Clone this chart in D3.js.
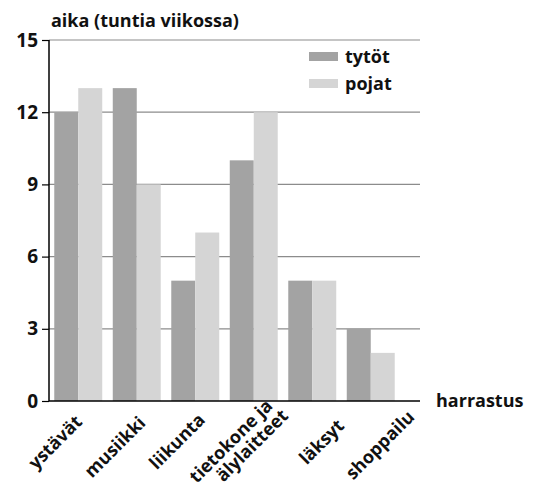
<!DOCTYPE html>
<html>
<head>
<meta charset="utf-8">
<script src="https://cdn.jsdelivr.net/npm/d3@7"></script>
<style>
  body { margin: 0; background: #fff; }
  text { font-family: "Open Sans", "DejaVu Sans", sans-serif; font-weight: 700; fill: #111; }
</style>
</head>
<body>
<div id="chart"></div>
<script>
// data
var categories = ["ystävät", "musiikki", "liikunta", "tietokone ja\nälylaitteet", "läksyt", "shoppailu"];
var tytot = [12, 13, 5, 10, 5, 3];
var pojat = [13, 9, 7, 12, 5, 2];
var seriesNames = ["tytöt", "pojat"];
var yTicks = [0, 3, 6, 9, 12, 15];

var colors = ["#a3a3a3", "#d5d5d5"];

var svgWidth = 539;
var svgHeight = 490;

var svg = d3.select("#chart")
  .append("svg")
  .attr("width", svgWidth)
  .attr("height", svgHeight);

// plot edges (don't call it "top", that's window.top)
var plotLeft = 49, plotRight = 400, plotTop = 40, plotBottom = 401;

var x = d3.scaleBand()
  .domain(categories)
  .range([plotLeft, plotRight])
  .paddingInner(0.18)
  .paddingOuter(0.09);

var xInner = d3.scaleBand()
  .domain(seriesNames)
  .range([0, x.bandwidth()]);

var y = d3.scaleLinear()
  .domain([0, 15])
  .range([plotBottom, plotTop]);

// gridlines
svg.append("g")
  .selectAll("line")
  .data(yTicks.filter(d => d > 0))
  .enter()
  .append("line")
  .attr("x1", plotLeft)
  .attr("x2", 420)
  .attr("y1", d => y(d))
  .attr("y2", d => y(d))
  .attr("stroke", "#8c8c8c")
  .attr("stroke-width", 1.2);

// bars
var rows = categories.map((c, i) => ({ cat: c, vals: [tytot[i], pojat[i]] }));

var groups = svg.append("g")
  .selectAll("g")
  .data(rows)
  .enter()
  .append("g")
  .attr("transform", d => `translate(${x(d.cat)},0)`);

groups.selectAll("rect")
  .data(d => d.vals.map((v, j) => ({ name: seriesNames[j], v: v, j: j })))
  .enter()
  .append("rect")
  .attr("x", d => xInner(d.name))
  .attr("y", d => y(d.v))
  .attr("width", xInner.bandwidth())
  .attr("height", d => y(0) - y(d.v))
  .attr("fill", d => colors[d.j]);

// y axis
var leftAxis = d3.axisLeft(y)
  .tickValues(yTicks)
  .tickSize(7)
  .tickPadding(4);

var yAxis = svg.append("g")
  .attr("transform", `translate(${plotLeft},0)`)
  .call(leftAxis);
yAxis.select(".domain").attr("stroke", "#000").attr("stroke-width", 1.5).attr("d", `M0,${plotBottom}V${plotTop}`);
yAxis.selectAll(".tick line").attr("stroke", "#000").attr("stroke-width", 1.2);
yAxis.selectAll(".tick text")
  .attr("font-size", 19)
  .style("font-family", "'Open Sans', sans-serif")
  .style("font-weight", 700)
  .attr("fill", "#111");

// x axis line
svg.append("line")
  .attr("x1", plotLeft)
  .attr("x2", 420)
  .attr("y1", plotBottom)
  .attr("y2", plotBottom)
  .attr("stroke", "#000")
  .attr("stroke-width", 1.5);

// x labels, rotated. the original places them by hand, so nudge each one
// from its band centre (end of the label's baseline)
var labelNudgeX = [5, 10, 11, 20, 33, 45];
var labelNudgeY = [22, 23, 20, 6, 26, 17];

var xLabels = svg.append("g")
  .selectAll("text")
  .data(categories)
  .enter()
  .append("text")
  .attr("transform", (d, i) => `translate(${x(d) + x.bandwidth() / 2 + labelNudgeX[i]},${plotBottom + labelNudgeY[i]}) rotate(-45)`)
  .attr("text-anchor", "end")
  .attr("font-size", 18);

xLabels.each(function(d) {
  var lines = d.split("\n");
  var t = d3.select(this);
  lines.forEach(function(l, i) {
    t.append("tspan")
      .attr("x", i * 4)
      .attr("dy", i === 0 ? 0 : "18px")
      .text(l);
  });
});

// axis titles
svg.append("text")
  .attr("x", 51)
  .attr("y", 27)
  .attr("font-size", 18)
  .text("aika (tuntia viikossa)");

svg.append("text")
  .attr("x", 436)
  .attr("y", 407)
  .attr("font-size", 18)
  .text("harrastus");

// legend
var legend = svg.append("g")
  .selectAll("g")
  .data(seriesNames)
  .enter()
  .append("g")
  .attr("transform", (d, i) => `translate(309,${52 + i * 27})`);

legend.append("rect")
  .attr("width", 29)
  .attr("height", 9)
  .attr("fill", (d, i) => colors[i]);

legend.append("text")
  .attr("x", 36)
  .attr("y", 11)
  .attr("font-size", 18)
  .text(d => d);
</script>
</body>
</html>
